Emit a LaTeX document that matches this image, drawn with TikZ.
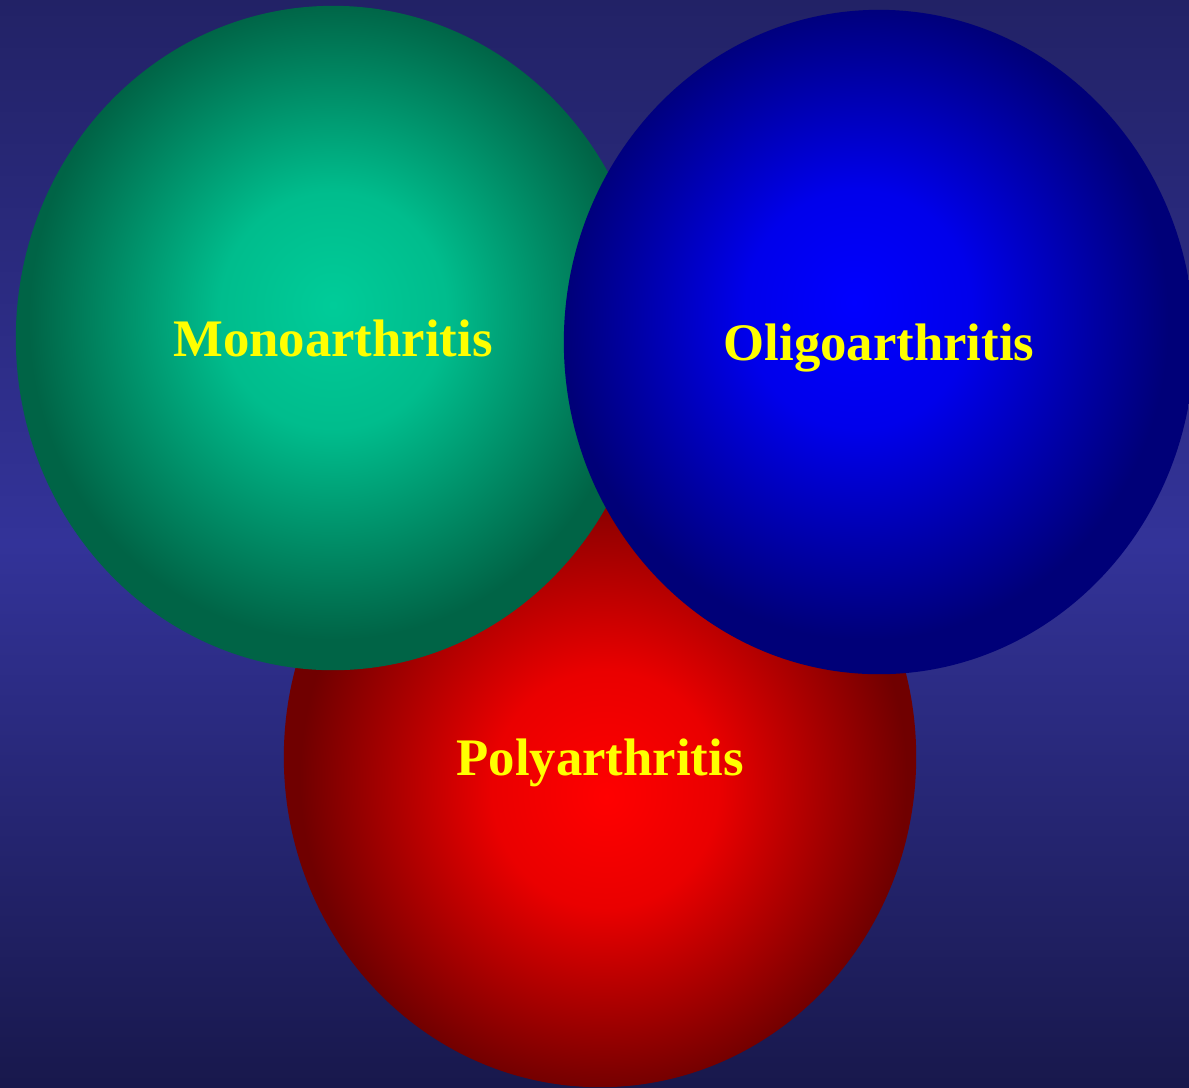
\documentclass[tikz,border=0pt]{standalone}
\usepackage{xcolor}
\usepackage{fontspec}
\setmainfont{Liberation Serif}
\usepackage{tikz}
\usetikzlibrary{shapes.geometric}

\definecolor{bgtop}{RGB}{34,34,102}
\definecolor{bgmid}{RGB}{51,51,153}
\definecolor{bgbot}{RGB}{24,24,76}
\definecolor{monoin}{RGB}{0,204,153}
\definecolor{monoout}{RGB}{0,100,70}
\definecolor{oligoin}{RGB}{0,0,255}
\definecolor{oligoout}{RGB}{0,0,120}
\definecolor{polyin}{RGB}{255,0,0}
\definecolor{polyout}{RGB}{112,0,0}
\definecolor{labelyellow}{RGB}{255,255,0}

% path bbox sits in the middle 50bp of the shading, so the rim is at 25bp
\pgfdeclareradialshading{monoshade}{\pgfpoint{0bp}{2.5bp}}{color(0bp)=(monoin); color(9bp)=(monoin!85!monoout); color(24bp)=(monoout); color(50bp)=(monoout)}
\pgfdeclareradialshading{oligoshade}{\pgfpoint{-2bp}{3bp}}{color(0bp)=(oligoin); color(9bp)=(oligoin!85!oligoout); color(24bp)=(oligoout); color(50bp)=(oligoout)}
\pgfdeclareradialshading{polyshade}{\pgfpoint{0.5bp}{-3bp}}{color(0bp)=(polyin); color(9bp)=(polyin!85!polyout); color(24bp)=(polyout); color(50bp)=(polyout)}

\tikzset{
    ball/.style={ellipse, shade, inner sep=0pt, text=labelyellow, text depth=0pt,
        font=\bfseries\fontsize{15}{18}\selectfont}
}

\begin{document}
\begin{tikzpicture}[x=0.01cm, y=-0.01cm]
    % --- Background ---
    \useasboundingbox (0,0) rectangle (1189,1087);
    \shade[top color=bgtop, bottom color=bgbot, middle color=bgmid] (0,0) rectangle (1189,1087);

    % --- Circles (bottom one first) ---
    \node[ball, shading=polyshade, minimum width=6.32cm, minimum height=6.60cm] (poly) at (600,757) {Polyarthritis};
    \node[ball, shading=monoshade, minimum width=6.34cm, minimum height=6.64cm] (mono) at (333,338) {Monoarthritis};
    \node[ball, shading=oligoshade, minimum width=6.30cm, minimum height=6.64cm] (oligo) at (879,342) {Oligoarthritis};

\end{tikzpicture}
\end{document}
